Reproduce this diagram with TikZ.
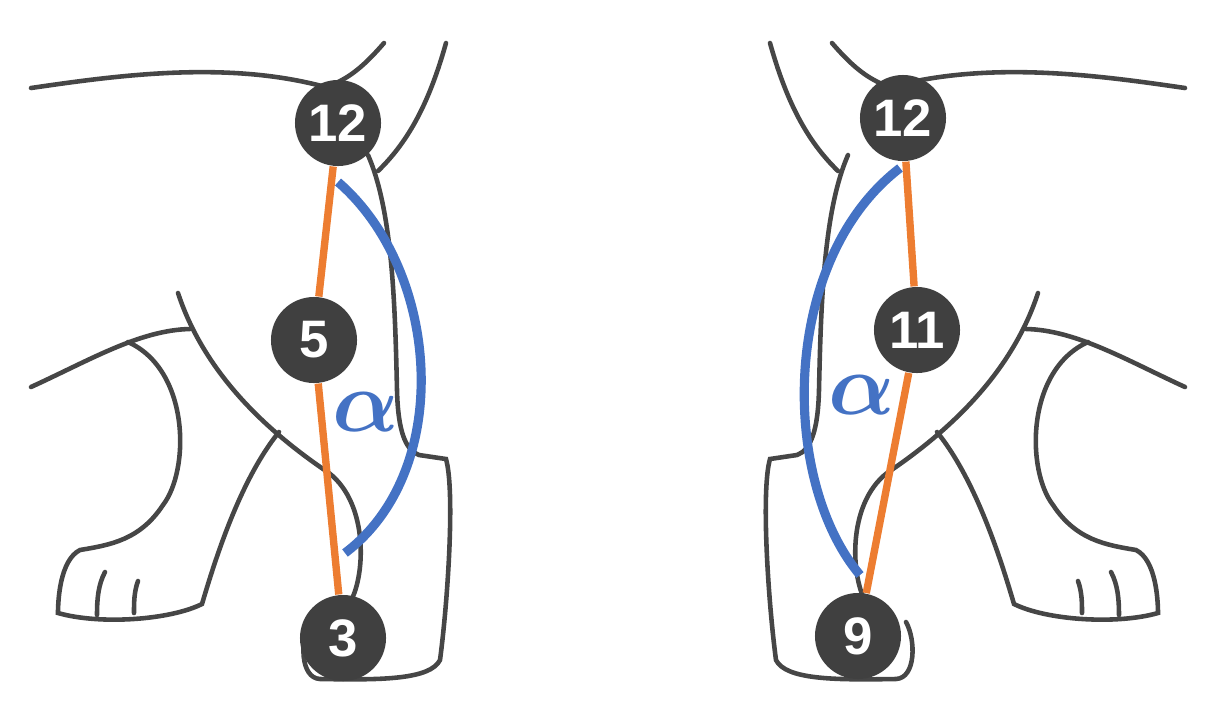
\documentclass[tikz,border=0pt]{standalone}
\usepackage{amsmath}
\usepackage{fontspec}
\setsansfont{Liberation Sans}
\usetikzlibrary{positioning}
\definecolor{dotgray}{RGB}{64,64,64}
\definecolor{linegray}{RGB}{70,70,70}
\definecolor{legorange}{RGB}{237,125,49}
\definecolor{anglblue}{RGB}{68,114,196}
\tikzset{
  outline/.style={draw=linegray, line width=1.3pt, line cap=round},
  joint/.style={circle, fill=dotgray, minimum size=0.86cm, inner sep=0pt, text=white,
    font=\sffamily\bfseries\fontsize{15}{15}\selectfont},
  bone/.style={draw=legorange, line width=2.1pt},
  angle/.style={draw=anglblue, line width=2.6pt},
  alpha/.style={text=anglblue, font=\fontsize{30}{30}\selectfont},
  dog/.pic={
    \draw[outline] (31,88) .. controls (120,75) and (230,60) .. (329,88);
    \draw[outline] (384,43) .. controls (365,65) and (350,78) .. (329,86);
    \draw[outline] (446,43) .. controls (430,100) and (410,140) .. (378,171);
    \draw[outline] (368,155) .. controls (392,210) and (395,300) .. (397,390)
      .. controls (398,430) and (405,450) .. (419,455) -- (446,459)
      .. controls (455,490) and (448,600) .. (440,660)
      .. controls (430,680) and (380,680) .. (320,679)
      .. controls (300,678) and (300,640) .. (310,622);
    \draw[outline] (178,293) .. controls (200,360) and (250,420) .. (329,473)
      .. controls (370,505) and (365,580) .. (349,604);
    \draw[outline] (31,387) .. controls (90,360) and (140,330) .. (190,329);
    \draw[outline] (128,342) .. controls (190,370) and (190,470) .. (163,505)
      .. controls (140,540) and (110,545) .. (80,550)
      .. controls (60,560) and (58,600) .. (58,613)
      .. controls (100,625) and (170,620) .. (202,604)
      .. controls (215,560) and (240,480) .. (279,432);
    \draw[outline] (105,572) .. controls (98,585) and (97,600) .. (97,615);
    \draw[outline] (138,581) .. controls (134,592) and (134,603) .. (134,613);
  }
}
\begin{document}
\begin{tikzpicture}[x=0.01cm, y=-0.01cm]
  \useasboundingbox (0,0) rectangle (1211,702);
  \pic at (0,0) {dog};
  \pic[xscale=-1] at (1216,0) {dog};

  % left leg
  \coordinate (la) at (338,182);
  \coordinate (lb) at (345,553);
  \draw[angle] (la) .. controls (440,270) and (455,470) .. (lb);
  \node[joint] (l12) at (338,123) {12};
  \node[joint] (l5) at (314,340) {5};
  \node[joint] (l3) at (343,638) {3};
  \draw[bone] (l12) -- (l5) -- (l3);
  \node[alpha] at (366,412) {$\boldsymbol{\alpha}$};

  % right leg
  \coordinate (ra) at (900,168);
  \coordinate (rb) at (860,575);
  \draw[angle] (ra) .. controls (780,260) and (780,480) .. (rb);
  \node[joint] (r12) at (903,118) {12};
  \node[joint] (r11) at (917,330) {11};
  \node[joint] (r9) at (858,636) {9};
  \draw[bone] (r12) -- (r11) -- (r9);
  \node[alpha] at (862,395) {$\boldsymbol{\alpha}$};
\end{tikzpicture}
\end{document}
